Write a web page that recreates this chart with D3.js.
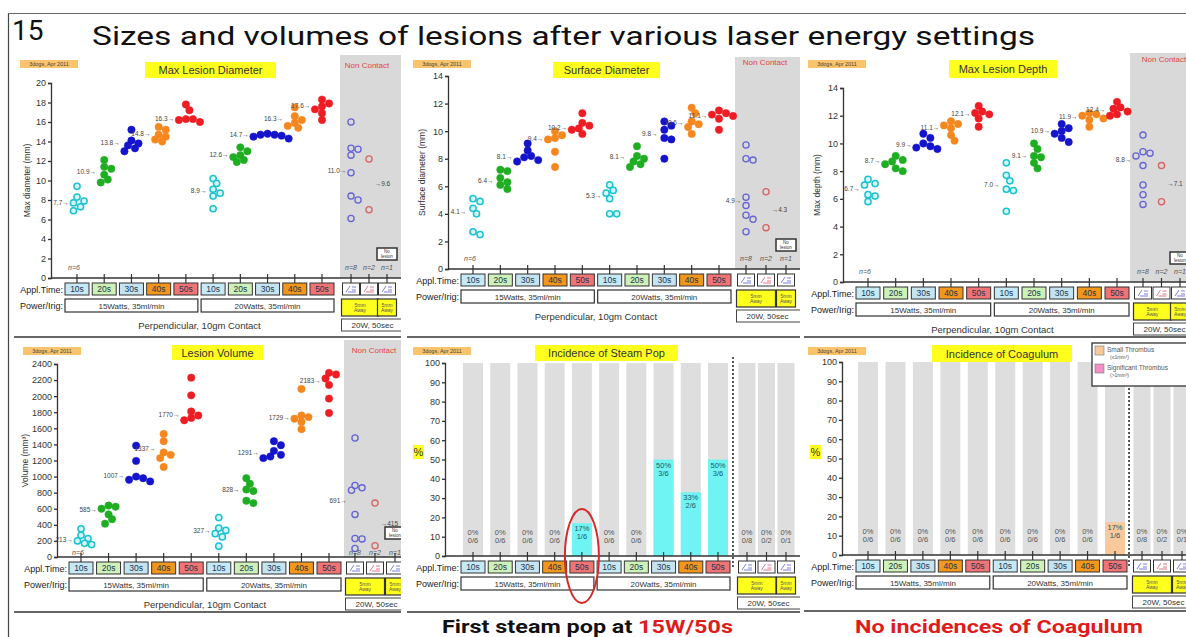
<!DOCTYPE html>
<html><head><meta charset="utf-8">
<script src="https://cdn.jsdelivr.net/npm/d3@7"></script>
<style>body{margin:0;background:#fff} text{font-family:"Liberation Sans",Arial,sans-serif}</style>
</head><body>
<svg id="c" width="1186" height="637"></svg>
<script>
// ================= DATA =================
const applTimes = ["10s","20s","30s","40s","50s","10s","20s","30s","40s","50s"];
const powerGroups = ["15Watts, 35ml/min","20Watts, 35ml/min"];
const ncCounts = ["n=8","n=2","n=1"];

// Max lesion diameter (mm)
const diameterContact = [
  [9.4, 8.3, 7.9, 7.7, 7.3, 6.9],
  [12.1, 11.4, 11.2, 10.6, 10.1, 9.8],
  [15.2, 14.1, 13.8, 13.6, 13.3, 13.0],
  [15.5, 15.2, 14.7, 14.5, 14.2, 14.0],
  [17.8, 17.2, 16.3, 16.3, 16.2, 16.0],
  [10.2, 9.7, 9.1, 8.7, 8.4, 7.1],
  [13.4, 13.0, 12.6, 12.4, 12.1, 11.9],
  [14.8, 14.7, 14.7, 14.6, 14.5, 14.3],
  [17.5, 16.6, 16.2, 15.9, 15.6, 15.4],
  [18.3, 17.9, 17.6, 17.3, 16.9, 16.2]
];
const diameterMeans = [7.7, 10.9, 13.8, 14.8, 16.3, 8.9, 12.6, 14.7, 16.3, 17.6];
const diameterNC = [[16.0, 13.3, 13.2, 12.6, 10.8, 8.4, 8.0, 6.1], [12.2, 7.0]];
const diameterNCMeans = [11.0, 9.6];

// Surface diameter (mm)
const surfaceContact = [
  [5.1, 4.9, 4.4, 4.0, 2.7, 2.5],
  [7.2, 7.1, 6.6, 6.3, 6.1, 5.8],
  [9.1, 8.6, 8.2, 8.1, 7.9, 7.8],
  [10.0, 9.7, 9.5, 9.4, 8.5, 7.4],
  [11.3, 10.6, 10.4, 10.2, 10.1, 9.8],
  [6.1, 5.7, 5.5, 5.1, 4.0, 4.0],
  [8.9, 8.2, 8.0, 7.8, 7.6, 7.4],
  [10.7, 10.4, 10.1, 9.5, 9.4, 8.0],
  [11.7, 11.3, 10.7, 10.5, 10.3, 9.8],
  [11.5, 11.3, 11.2, 11.1, 10.9, 10.1]
];
const surfaceMeans = [4.1, 6.4, 8.1, 9.4, 10.2, 5.3, 8.1, 9.8, 10.6, 11.1];
const surfaceNC = [[9.0, 8.0, 7.9, 5.2, 4.6, 3.9, 3.6, 2.7], [5.6, 3.0]];
const surfaceNCMeans = [4.9, 4.3];

// Max lesion depth (mm)
const depthContact = [
  [7.4, 7.1, 7.0, 6.3, 6.2, 5.8],
  [9.1, 8.8, 8.7, 8.5, 8.2, 8.0],
  [10.7, 10.4, 10.0, 9.8, 9.7, 9.6],
  [11.6, 11.4, 11.3, 11.1, 10.6, 10.2],
  [12.7, 12.3, 12.2, 12.1, 11.8, 11.2],
  [8.6, 7.7, 7.3, 6.7, 6.6, 5.1],
  [10.0, 9.6, 9.1, 9.0, 8.6, 8.2],
  [11.4, 11.1, 10.9, 10.7, 10.4, 10.1],
  [12.2, 12.1, 12.0, 11.8, 11.7, 11.2],
  [13.0, 12.6, 12.5, 12.3, 12.1, 12.0]
];
const depthMeans = [6.7, 8.7, 9.9, 11.1, 12.1, 7.0, 9.1, 10.9, 11.9, 12.4];
const depthNC = [[10.6, 9.4, 9.3, 9.1, 8.4, 7.0, 6.3, 5.6], [8.4, 5.8]];
const depthNCMeans = [8.8, 7.1];

// Lesion volume (mm3)
const volumeContact = [
  [350, 270, 230, 200, 170, 155],
  [640, 625, 600, 530, 470, 415],
  [1385, 1195, 1000, 980, 960, 940],
  [1530, 1440, 1300, 1270, 1230, 1120],
  [2230, 2010, 1810, 1760, 1730, 1700],
  [490, 360, 330, 290, 250, 135],
  [980, 910, 840, 820, 700, 670],
  [1440, 1390, 1320, 1270, 1250, 1230],
  [2090, 1760, 1740, 1720, 1680, 1590],
  [2290, 2270, 2220, 2140, 1970, 1790]
];
const volumeMeans = [213, 585, 1007, 1337, 1770, 327, 828, 1291, 1729, 2183];
const volumeNC = [[1480, 890, 860, 830, 530, 230, 225, 105], [670, 140]];
const volumeNCMeans = [691, 415];

// Incidence (%)
const steamPopPct = [0, 0, 0, 0, 17, 0, 0, 50, 33, 50, 0, 0, 0];
const steamPopCounts = ["0/6","0/6","0/6","0/6","1/6","0/6","0/6","3/6","2/6","3/6","0/8","0/2","0/1"];
const coagulumPct = [0, 0, 0, 0, 0, 0, 0, 0, 0, 17, 0, 0, 0];
const coagulumCounts = ["0/6","0/6","0/6","0/6","0/6","0/6","0/6","0/6","0/6","1/6","0/8","0/2","0/1"];
const legendItems = [["Small Thrombus","(\u22641mm\u00b3)"],["Significant Thrombus","(>1mm\u00b3)"]];

// ================= STYLE =================
const applFill = ["#c6e9f6","#cdf1b6","#c6e3f0","#f2961c","#f07474"];
const dotFill = ["#d6f7f9","#1fae22","#1414cc","#f5871f","#ee1d23"];
const dotStroke = ["#19c3cf","#1fae22","#1414cc","#f5871f","#ee1d23"];
const ncStroke = ["#6464d6","#d66464"];

const svg = d3.select("#c");
const defs = svg.append("defs");

function txt(g, x, y, s, size, o = {}) {
  return g.append("text").attr("x", x).attr("y", y).attr("font-size", size)
    .attr("fill", o.fill || "#222").attr("text-anchor", o.anchor || "middle")
    .attr("font-weight", o.weight || null).attr("font-style", o.style || null).text(s);
}
function panelGroup(cfg) {
  defs.append("clipPath").attr("id", "clip-" + cfg.id).append("rect")
    .attr("x", cfg.x0).attr("y", cfg.yA).attr("width", cfg.x1 - cfg.x0).attr("height", cfg.yB - cfg.yA);
  return svg.append("g").attr("clip-path", `url(#clip-${cfg.id})`);
}
function header(g, cfg) {
  const [dx, dy] = cfg.dogs;
  g.append("rect").attr("x", dx).attr("y", dy).attr("width", 58).attr("height", 8).attr("fill", "#f9c46b");
  txt(g, dx + 29, dy + 6, "3dogs, Apr 2011", 5.5, {fill: "#444"});
  const [tx, ty, tw, th] = cfg.titleBox;
  g.append("rect").attr("x", tx).attr("y", ty).attr("width", tw).attr("height", th).attr("fill", "#ffff1e");
  txt(g, tx + tw / 2, ty + th / 2 + 4, cfg.title, 11, {fill: "#333"});
}
function yAxis(g, cfg, y, ticks, fmt) {
  const ax = g.append("g").attr("transform", `translate(${cfg.axisX},0)`)
    .call(d3.axisLeft(y).tickValues(ticks).tickSize(3).tickPadding(2).tickFormat(fmt));
  ax.selectAll("text").attr("font-size", 9).attr("fill", "#333").attr("font-family", "Liberation Sans, Arial, sans-serif");
  ax.selectAll("line,path").attr("stroke", "#333").attr("stroke-width", 1.3);
  g.append("line").attr("x1", cfg.axisX).attr("x2", cfg.x1).attr("y1", cfg.y0).attr("y2", cfg.y0)
    .attr("stroke", "#333").attr("stroke-width", 1.3);
}
function icon(g, x, y, color) {
  const p = d3.path();
  p.moveTo(x - 5, y + 3); p.lineTo(x - 1, y - 3);
  p.moveTo(x + 1, y - 2); p.lineTo(x + 5, y - 2);
  p.moveTo(x + 1, y + 1); p.lineTo(x + 5, y + 1);
  p.moveTo(x - 3, y + 3); p.lineTo(x + 5, y + 3);
  g.append("path").attr("d", p.toString()).attr("stroke", color).attr("stroke-width", 0.8).attr("fill", "none");
}
function rows(g, cfg, xc, xn, perp) {
  const y0 = cfg.y0, bw = 24, nw = 17;
  txt(g, xc(0) - bw / 2 - 2, y0 + 14.5, "Appl.Time:", 9, {anchor: "end"});
  txt(g, xc(0) - bw / 2 - 2, y0 + 31, "Power/Irig:", 9, {anchor: "end"});
  const xs = d3.range(10).map(xc).concat(d3.range(3).map(xn));
  g.selectAll(null).data(xs).join("line").attr("x1", d => d).attr("x2", d => d)
    .attr("y1", y0 - 4).attr("y2", y0 + 5).attr("stroke", "#333").attr("stroke-width", 1.2);
  applTimes.forEach((t, i) => {
    g.append("rect").attr("x", xc(i) - bw / 2).attr("y", y0 + 5).attr("width", bw).attr("height", 12)
      .attr("fill", applFill[i % 5]).attr("stroke", "#333").attr("stroke-width", 1);
    txt(g, xc(i), y0 + 14, t, 8.5, {fill: "#1c3652"});
  });
  powerGroups.forEach((p, k) => {
    const xa = xc(k * 5) - bw / 2, xb = xc(k * 5 + 4) + bw / 2;
    g.append("rect").attr("x", xa).attr("y", y0 + 21).attr("width", xb - xa).attr("height", 13)
      .attr("fill", "#fff").attr("stroke", "#333").attr("stroke-width", 1.2);
    txt(g, (xa + xb) / 2, y0 + 30.5, p, 8, {fill: "#333"});
  });
  ["#5a5ae0", "#e05070", "#5a5ae0"].forEach((c, i) => {
    g.append("rect").attr("x", xn(i) - nw / 2).attr("y", y0 + 5).attr("width", nw).attr("height", 12)
      .attr("fill", "#fff").attr("stroke", "#333").attr("stroke-width", 1);
    icon(g, xn(i), y0 + 11, c);
  });
  [[0, 1], [2, 2]].forEach(([a, b]) => {
    const xa = xn(a) - nw / 2 - 1, xb = xn(b) + nw / 2 + 1;
    g.append("rect").attr("x", xa).attr("y", y0 + 21).attr("width", xb - xa).attr("height", 17)
      .attr("fill", "#ffff1e").attr("stroke", "#333").attr("stroke-width", 1.2);
    txt(g, (xa + xb) / 2, y0 + 28.5, "5mm", 5, {fill: "#555"});
    txt(g, (xa + xb) / 2, y0 + 34, "Away", 5, {fill: "#555"});
  });
  const wa = xn(0) - nw / 2 - 1, wb = xn(2) + nw / 2 + 8;
  g.append("rect").attr("x", wa).attr("y", y0 + 41).attr("width", wb - wa).attr("height", 12)
    .attr("fill", "#fff").attr("stroke", "#444").attr("stroke-width", 1);
  txt(g, wa + 31, y0 + 50, "20W, 50sec", 8, {fill: "#333"});
  if (perp) txt(g, (xc(0) + xc(9)) / 2, y0 + 50.5, "Perpendicular, 10gm Contact", 9.5, {fill: "#333"});
  g.append("line").attr("x1", cfg.x0 + 4).attr("x2", cfg.x1).attr("y1", cfg.bottomY).attr("y2", cfg.bottomY)
    .attr("stroke", "#666").attr("stroke-width", 2);
}
function swarm(vals, cx, y, r) {
  const placed = [];
  vals.slice().sort((a, b) => b - a).forEach(v => {
    const py = y(v);
    for (let k = 0; k < 30; k++) {
      const off = (k % 2 ? 1 : -1) * Math.ceil(k / 2) * r * 0.95;
      const px = cx + off;
      if (placed.every(p => Math.hypot(p.x - px, p.y - py) >= 2 * r * 0.8)) { placed.push({x: px, y: py, v}); break; }
    }
  });
  return placed;
}

function dotPanel(cfg, contact, means, nc, ncMeans) {
  const g = panelGroup(cfg);
  g.append("rect").attr("x", cfg.grayX).attr("y", cfg.grayTop).attr("width", cfg.x1 - cfg.grayX)
    .attr("height", cfg.y0 - cfg.grayTop).attr("fill", "#d9d9d9");
  txt(g, cfg.ncLabel[0], cfg.ncLabel[1], "Non Contact", 8, {fill: "#e0473f"});
  header(g, cfg);
  const y = d3.scaleLinear().domain(cfg.domain).range([cfg.y0, cfg.yTop]);
  const xc = d3.scalePoint().domain(d3.range(10)).range(cfg.contact);
  const xn = d3.scalePoint().domain(d3.range(3)).range(cfg.nc);
  yAxis(g, cfg, y, d3.range(cfg.domain[0], cfg.domain[1] + cfg.step / 2, cfg.step), d3.format("d"));
  g.append("text").attr("transform", `translate(${cfg.ylabX},${(cfg.y0 + cfg.yTop) / 2}) rotate(-90)`)
    .attr("text-anchor", "middle").attr("font-size", 8.5).attr("fill", "#333").text(cfg.ylab);
  const fmt = d3.format(cfg.dec ? ".1f" : "d");
  const r = 3.7;
  contact.forEach((vals, i) => {
    const pts = swarm(vals, xc(i), y, r);
    const ci = i % 5, open = ci === 0;
    g.selectAll(null).data(pts).join("circle").attr("cx", d => d.x).attr("cy", d => d.y)
      .attr("r", open ? r - 0.6 : r).attr("fill", dotFill[ci]).attr("stroke", dotStroke[ci]).attr("stroke-width", open ? 1.5 : 0.5);
    const minX = Math.min(d3.min(pts, d => d.x), xc(i) - 2);
    txt(g, minX - r - 1, y(means[i]) + 2, fmt(means[i]) + "\u2192", 6.5, {anchor: "end", fill: "#444"});
  });
  nc.forEach((vals, i) => {
    const pts = swarm(vals, xn(i), y, r);
    g.selectAll(null).data(pts).join("circle").attr("cx", d => d.x).attr("cy", d => d.y)
      .attr("r", r - 0.6).attr("fill", "none").attr("stroke", ncStroke[i]).attr("stroke-width", 1.3);
    if (i === 0) txt(g, d3.min(pts, d => d.x) - r - 1, y(ncMeans[i]) + 2, fmt(ncMeans[i]) + "\u2192", 6.5, {anchor: "end", fill: "#444"});
    else txt(g, d3.max(pts, d => d.x) + r + 2, y(ncMeans[i]) + 2, "\u2192" + fmt(ncMeans[i]), 6.5, {anchor: "start", fill: "#444"});
  });
  txt(g, xc(0) - 3, cfg.y0 - cfg.nOff, "n=6", 7, {fill: "#555", style: "italic"});
  ncCounts.forEach((n, i) => txt(g, xn(i), cfg.y0 - cfg.nOff, n, 7, {fill: "#555", style: "italic"}));
  // No lesion box
  g.append("rect").attr("x", xn(2) - 10).attr("y", cfg.y0 - 30).attr("width", 20).attr("height", 12)
    .attr("fill", "#fff").attr("stroke", "#333").attr("stroke-width", 1.5);
  txt(g, xn(2), cfg.y0 - 25, "No", 4.5, {fill: "#333"});
  txt(g, xn(2), cfg.y0 - 20.5, "lesion", 4.5, {fill: "#333"});
  rows(g, cfg, xc, xn, true);
}

function barPanel(cfg, pct, counts, color) {
  const g = panelGroup(cfg);
  header(g, cfg);
  const y = d3.scaleLinear().domain([0, 100]).range([cfg.y0, cfg.yTop]);
  const xc = d3.scalePoint().domain(d3.range(10)).range(cfg.contact);
  const xn = d3.scalePoint().domain(d3.range(3)).range(cfg.nc);
  const xs = d3.range(10).map(xc).concat(d3.range(3).map(xn));
  const ws = d3.range(13).map(i => i < 10 ? 20 : 17);
  g.selectAll(null).data(xs).join("rect").attr("x", (d, i) => d - ws[i] / 2).attr("y", y(100))
    .attr("width", (d, i) => ws[i]).attr("height", y(0) - y(100)).attr("fill", "#dedede");
  g.selectAll(null).data(pct).join("rect").attr("x", (d, i) => xs[i] - ws[i] / 2).attr("y", d => y(d))
    .attr("width", (d, i) => ws[i]).attr("height", d => y(0) - y(d)).attr("fill", color);
  pct.forEach((p, i) => {
    const top = y(Math.max(p, 15)) + 8;
    txt(g, xs[i], top, p + "%", 7.5, {fill: p > 0 ? "#1a5a6a" : "#555"});
    txt(g, xs[i], top + 8, counts[i], 7.5, {fill: p > 0 ? "#1a5a6a" : "#555"});
  });
  g.append("line").attr("x1", cfg.dotted).attr("x2", cfg.dotted).attr("y1", cfg.yTop - 6).attr("y2", cfg.y0 + 12)
    .attr("stroke", "#222").attr("stroke-width", 1.5).attr("stroke-dasharray", "2,2");
  yAxis(g, cfg, y, d3.range(0, 101, 10), d3.format("d"));
  g.append("rect").attr("x", cfg.pct[0]).attr("y", cfg.pct[1]).attr("width", 11).attr("height", 14).attr("fill", "#ffff1e");
  txt(g, cfg.pct[0] + 5.5, cfg.pct[1] + 11, "%", 11, {fill: "#333"});
  rows(g, cfg, xc, xn, false);
  return {g, xc, y};
}

// ================= LAYOUT =================
svg.append("line").attr("x1", 8.5).attr("x2", 8.5).attr("y1", 13).attr("y2", 637).attr("stroke", "#444").attr("stroke-width", 1.2);
svg.append("line").attr("x1", 8).attr("x2", 1186).attr("y1", 13.5).attr("y2", 13.5).attr("stroke", "#666").attr("stroke-width", 1);
svg.append("text").attr("x", 12).attr("y", 40).attr("font-size", 28).attr("fill", "#111")
  .style("font-family", "Roboto, 'Open Sans', sans-serif").text("15");
svg.append("text").attr("x", 92).attr("y", 45).attr("font-size", 26).attr("fill", "#111")
  .attr("textLength", 943).attr("lengthAdjust", "spacingAndGlyphs")
  .style("font-family", "Roboto, 'Open Sans', sans-serif").text("Sizes and volumes of lesions after various laser energy settings");

dotPanel({id: "p1", x0: 10, x1: 401, yA: 50, yB: 339, axisX: 51, y0: 278, yTop: 83, domain: [0, 20], step: 2,
  contact: [77, 322], nc: [351, 387], grayX: 340, grayTop: 55, title: "Max Lesion Diameter", titleBox: [145, 62, 131, 16],
  dogs: [20, 60], ylab: "Max diameter (mm)", ylabX: 30, ncLabel: [367, 68], dec: 1, bottomY: 337, nOff: 8},
  diameterContact, diameterMeans, diameterNC, diameterNCMeans);
dotPanel({id: "p2", x0: 403, x1: 800, yA: 50, yB: 339, axisX: 448, y0: 269, yTop: 76, domain: [0, 14], step: 2,
  contact: [473, 719], nc: [746, 786], grayX: 735, grayTop: 57, title: "Surface Diameter", titleBox: [553, 62, 107, 16],
  dogs: [413, 60], ylab: "Surface diameter (mm)", ylabX: 425, ncLabel: [765, 65], dec: 1, bottomY: 337, nOff: 8},
  surfaceContact, surfaceMeans, surfaceNC, surfaceNCMeans);
dotPanel({id: "p3", x0: 800, x1: 1186, yA: 50, yB: 339, axisX: 843, y0: 282, yTop: 88, domain: [0, 14], step: 2,
  contact: [868, 1117], nc: [1143, 1180], grayX: 1130, grayTop: 53, title: "Max Lesion Depth", titleBox: [949, 60, 108, 18],
  dogs: [808, 60], ylab: "Max depth (mm)", ylabX: 820, ncLabel: [1164, 62], dec: 1, bottomY: 337, nOff: 8},
  depthContact, depthMeans, depthNC, depthNCMeans);
dotPanel({id: "p4", x0: 10, x1: 401, yA: 339, yB: 637, axisX: 57, y0: 557, yTop: 364, domain: [0, 2400], step: 200,
  contact: [81, 329], nc: [355, 395], grayX: 344, grayTop: 340, title: "Lesion Volume", titleBox: [172, 345, 91, 15],
  dogs: [23, 347], ylab: "Volume (mm\u00b3)", ylabX: 28, ncLabel: [374, 353], dec: 0, bottomY: 612, nOff: 2},
  volumeContact, volumeMeans, volumeNC, volumeNCMeans);

const sp = barPanel({id: "p5", x0: 403, x1: 800, yA: 339, yB: 637, axisX: 445, y0: 556, yTop: 363,
  contact: [473, 718], nc: [747, 786], dotted: 733, title: "Incidence of Steam Pop", titleBox: [535, 345, 143, 16],
  dogs: [413, 347], pct: [413, 445], bottomY: 612}, steamPopPct, steamPopCounts, "#70f3f3");
sp.g.append("ellipse").attr("cx", sp.xc(4)).attr("cy", sp.y(0)).attr("rx", 17).attr("ry", 47)
  .attr("fill", "none").attr("stroke", "#d42a2a").attr("stroke-width", 2);

const cg = barPanel({id: "p6", x0: 800, x1: 1186, yA: 339, yB: 637, axisX: 842, y0: 555, yTop: 362,
  contact: [868, 1115], nc: [1142, 1182], dotted: 1129, title: "Incidence of Coagulum", titleBox: [932, 345, 140, 17],
  dogs: [808, 347], pct: [810, 445], bottomY: 611}, coagulumPct, coagulumCounts, "#f9c89b");
const lg = cg.g.append("g");
lg.append("rect").attr("x", 1092).attr("y", 343).attr("width", 100).attr("height", 43).attr("fill", "#fff").attr("stroke", "#333").attr("stroke-width", 1.3);
["#f9c89b", "#f58fc8"].forEach((c, i) => {
  lg.append("rect").attr("x", 1095).attr("y", 346 + i * 18).attr("width", 9).attr("height", 9).attr("fill", c).attr("stroke", "#777").attr("stroke-width", 0.6);
  txt(lg, 1107, 352 + i * 18, legendItems[i][0], 6.5, {anchor: "start", fill: "#555"});
  txt(lg, 1110, 359 + i * 18, legendItems[i][1], 5, {anchor: "start", fill: "#555"});
});

const cap1 = svg.append("text").attr("x", 442).attr("y", 633).attr("font-size", 19).attr("font-weight", "bold")
  .attr("textLength", 291).attr("lengthAdjust", "spacingAndGlyphs").style("font-family", "Roboto, 'Liberation Sans', sans-serif").attr("fill", "#111");
cap1.append("tspan").text("First steam pop at ");
cap1.append("tspan").attr("fill", "#e01b1b").text("15W/50s");
svg.append("text").attr("x", 855).attr("y", 633).attr("font-size", 19).attr("font-weight", "bold")
  .attr("textLength", 288).attr("lengthAdjust", "spacingAndGlyphs").style("font-family", "Roboto, 'Liberation Sans', sans-serif")
  .attr("fill", "#e01b1b").text("No incidences of Coagulum");
</script>
</body></html>
